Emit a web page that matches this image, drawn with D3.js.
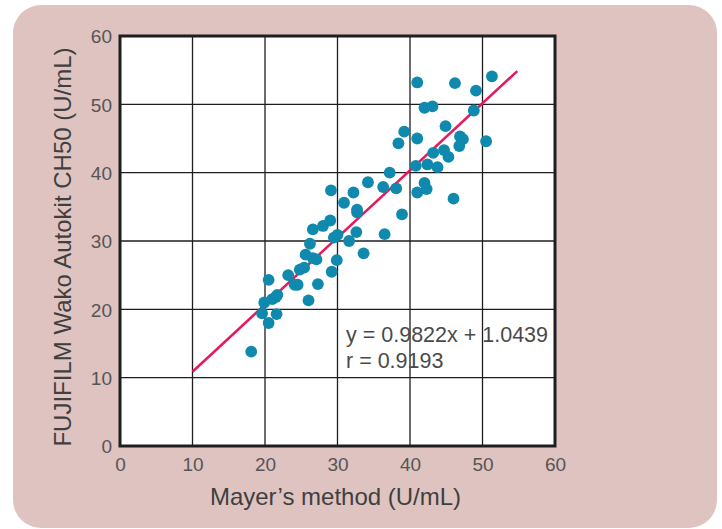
<!DOCTYPE html>
<html><head><meta charset="utf-8">
<script src="https://cdn.jsdelivr.net/npm/d3@7/dist/d3.min.js"></script>
<style>
html,body{margin:0;padding:0;background:#fff;}
svg{display:block;}
</style></head>
<body>
<svg id="chart" width="722" height="529"></svg>
<script>
// Data
const mayerX = [18.1,20.5,19.6,21.6,19.9,21.0,21.5,21.7,20.5,26.0,24.5,24.1,23.2,27.3,24.8,25.4,27.1,26.6,25.6,29.2,29.9,26.2,26.6,28.0,29.0,29.1,29.5,30.0,31.6,32.6,33.6,30.9,32.7,32.7,32.2,34.2,36.5,36.3,38.1,37.2,38.9,38.4,39.2,41.0,41.0,40.8,41.0,42.0,42.3,42.4,43.2,43.8,42.0,43.1,44.9,44.7,45.3,46.0,46.2,46.8,46.9,47.3,48.8,49.1,50.5,51.3];
const wakoY  = [13.8,18.0,19.4,19.3,21.0,21.5,21.8,22.1,24.3,21.3,23.6,23.6,25.0,23.7,25.8,26.1,27.3,27.5,28.0,25.5,27.2,29.6,31.7,32.2,33.0,37.4,30.5,30.9,30.0,31.3,28.2,35.6,34.2,34.6,37.1,38.6,31.0,37.9,37.7,40.0,33.9,44.3,46.0,53.2,45.0,41.0,37.1,38.5,37.6,41.2,42.9,40.8,49.5,49.7,46.8,43.3,42.3,36.2,53.1,43.9,45.3,44.9,49.1,52.0,44.6,54.1];
const xTicks = [0,10,20,30,40,50,60];
const yTicks = [0,10,20,30,40,50,60];
const slope = 0.9822, intercept = 1.0439;
const fitRange = [10, 54.8];
const eqLines = ["y = 0.9822x + 1.0439", "r = 0.9193"];
const xTitle = "Mayer\u2019s method (U/mL)";
const yTitle = "FUJIFILM Wako Autokit CH50 (U/mL)";

const svg = d3.select("#chart");
const L = 120, R = 555, T = 36, B = 446;
const x = d3.scaleLinear().domain([0,60]).range([L,R]);
const y = d3.scaleLinear().domain([0,60]).range([B,T]);

// background panel
svg.append("rect").attr("x",13).attr("y",5).attr("width",704).attr("height",523)
  .attr("rx",28).attr("ry",28).attr("fill","#dfc3c1");

// plot area
svg.append("rect").attr("x",L).attr("y",T).attr("width",R-L).attr("height",B-T).attr("fill","#fff");

// grid lines
const g = svg.append("g");
g.selectAll("line.vx").data(xTicks.slice(1,-1)).join("line")
  .attr("x1",d=>x(d)).attr("x2",d=>x(d)).attr("y1",T).attr("y2",B)
  .attr("stroke","#1e1e1e").attr("stroke-width",1.3);
g.selectAll("line.hy").data(yTicks.slice(1,-1)).join("line")
  .attr("y1",d=>y(d)).attr("y2",d=>y(d)).attr("x1",L).attr("x2",R)
  .attr("stroke","#1e1e1e").attr("stroke-width",1.3);

// axes (labels only)
const font = "'Liberation Sans Narrow','Liberation Sans',Arial,sans-serif";
const xAxis = d3.axisBottom(x).tickValues(xTicks).tickSize(0).tickPadding(12).tickFormat(d3.format("d"));
const yAxis = d3.axisLeft(y).tickValues(yTicks).tickSize(0).tickPadding(8).tickFormat(d3.format("d"));
const gx = svg.append("g").attr("transform",`translate(0,${B})`).call(xAxis);
const gy = svg.append("g").attr("transform",`translate(${L},0)`).call(yAxis);
[gx,gy].forEach(a=>{
  a.select(".domain").remove();
  a.selectAll("text").attr("font-family",font).attr("font-size",19).attr("fill","#555");
});
gy.selectAll("text").attr("dy","0.36em");

// regression line
svg.append("line")
  .attr("x1",x(fitRange[0])).attr("y1",y(slope*fitRange[0]+intercept))
  .attr("x2",x(fitRange[1])).attr("y2",y(slope*fitRange[1]+intercept))
  .attr("stroke","#e6195c").attr("stroke-width",2.5);

// points
svg.append("g").selectAll("circle").data(mayerX.map((v,i)=>[v,wakoY[i]])).join("circle")
  .attr("cx",d=>x(d[0])).attr("cy",d=>y(d[1])).attr("r",5.9).attr("fill","#0f89ae");

// frame
svg.append("rect").attr("x",L).attr("y",T).attr("width",R-L).attr("height",B-T)
  .attr("fill","none").attr("stroke","#1e1e1e").attr("stroke-width",3);

// equation text
svg.append("g").selectAll("text").data(eqLines).join("text")
  .attr("x",346).attr("y",(d,i)=>342+i*25.5)
  .attr("font-family","'Liberation Sans',Arial,sans-serif").attr("font-size",21.5)
  .attr("fill","#4a4a4a").text(d=>d);

// titles
svg.append("text").attr("x",(L+R)/2 - 2).attr("y",505).attr("text-anchor","middle")
  .attr("font-family","'Liberation Sans',Arial,sans-serif").attr("font-size",24)
  .attr("fill","#3f3f3f").text(xTitle);
svg.append("text").attr("transform",`translate(71,${(T+B)/2 + 6}) rotate(-90)`).attr("text-anchor","middle")
  .attr("font-family","'Liberation Sans',Arial,sans-serif").attr("font-size",24)
  .attr("fill","#3f3f3f").text(yTitle);
</script>
</body></html>
